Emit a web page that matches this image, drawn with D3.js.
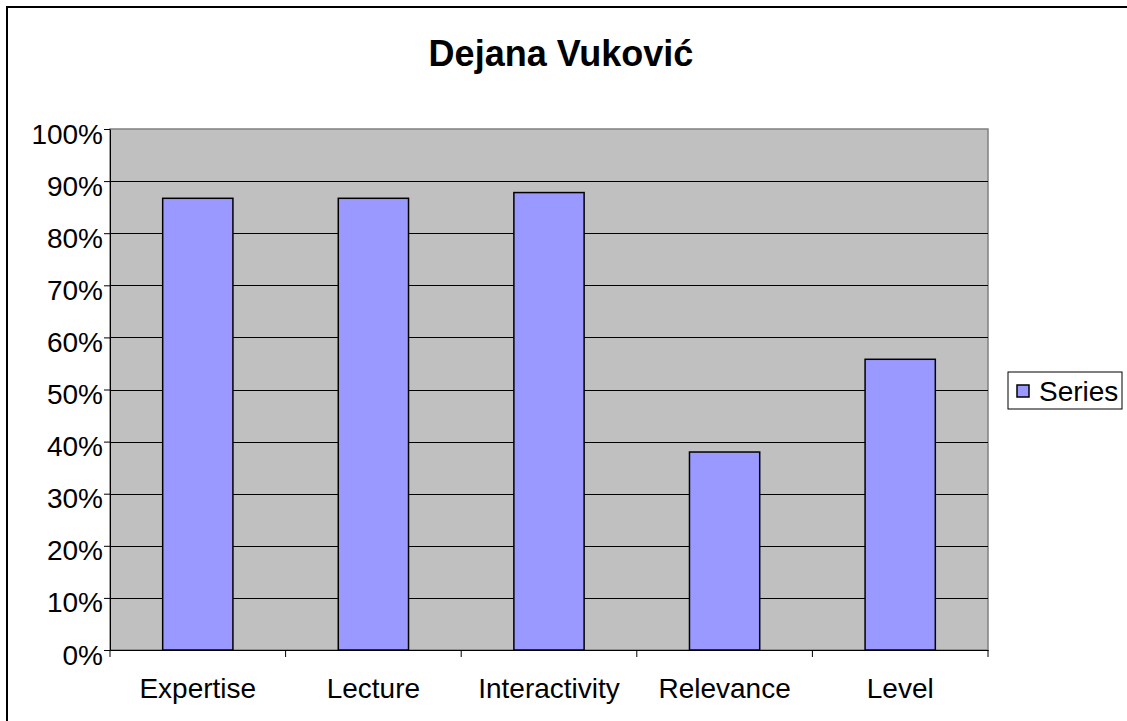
<!DOCTYPE html>
<html>
<head>
<meta charset="utf-8">
<script src="https://cdn.jsdelivr.net/npm/d3@7"></script>
<style>
  body { margin: 0; background: #fff; }
  text { font-family: "Liberation Sans", Arial, sans-serif; }
</style>
</head>
<body>
<svg id="chart"></svg>
<script>
// data
const categories = ['Expertise', 'Lecture', 'Interactivity', 'Relevance', 'Level'];
const values = [0.867, 0.867, 0.878, 0.380, 0.558];
const yTicks = [0, 0.1, 0.2, 0.3, 0.4, 0.5, 0.6, 0.7, 0.8, 0.9, 1.0];
const seriesName = 'Series';
const chartTitle = 'Dejana Vuković';

const width = 1127, height = 721;
const margin = {top: 129, right: 139, bottom: 71, left: 110};
const innerW = width - margin.left - margin.right;
const innerH = height - margin.top - margin.bottom;

const svg = d3.select('#chart')
    .attr('width', width)
    .attr('height', height);

// outer chart border (runs off the right and bottom edges)
svg.append('rect')
    .attr('x', 7).attr('y', 7)
    .attr('width', width + 20).attr('height', height + 20)
    .attr('fill', '#fff')
    .attr('stroke', '#000')
    .attr('stroke-width', 2);

svg.append('text')
    .attr('x', 561)
    .attr('y', 66)
    .attr('text-anchor', 'middle')
    .attr('font-weight', 'bold')
    .attr('font-size', 36)
    .text(chartTitle);

const chart = svg.append('g')
    .attr('transform', `translate(${margin.left}, ${margin.top})`);

const xscale = d3.scaleBand()
    .domain(categories)
    .range([0, innerW])
    .paddingInner(0.6)
    .paddingOuter(0.3);

// band scale without padding for the category tick marks
const xcats = d3.scaleBand()
    .domain(categories)
    .range([0, innerW]);

const yscale = d3.scaleLinear()
    .domain([0, 1])
    .range([innerH, 0]);

chart.append('rect')
    .attr('width', innerW)
    .attr('height', innerH)
    .attr('fill', '#c0c0c0')
    .attr('stroke', '#808080')
    .attr('stroke-width', 1.5);

chart.selectAll('.grid')
    .data(yTicks.filter(d => d > 0 && d < 1))
    .join('line')
    .attr('class', 'grid')
    .attr('x1', 0).attr('x2', innerW)
    .attr('y1', d => Math.round(yscale(d)) + 0.5)
    .attr('y2', d => Math.round(yscale(d)) + 0.5)
    .attr('stroke', '#000')
    .attr('stroke-width', 1);

chart.selectAll('.bar')
    .data(values)
    .join('rect')
    .attr('class', 'bar')
    .attr('x', (d, i) => xscale(categories[i]))
    .attr('y', d => yscale(d))
    .attr('width', xscale.bandwidth())
    .attr('height', d => innerH - yscale(d))
    .attr('fill', '#9999ff')
    .attr('stroke', '#000')
    .attr('stroke-width', 1.5);

// y axis
const yaxis = d3.axisLeft(yscale)
    .tickValues(yTicks)
    .tickFormat(d3.format('.0%'))
    .tickSize(6)
    .tickPadding(1)
    .tickSizeOuter(0);

const yg = chart.append('g').call(yaxis);
yg.select('.domain').attr('stroke', '#000');
yg.selectAll('.tick line').attr('stroke', '#000');
yg.selectAll('.tick text')
    .attr('font-size', 28)
    .attr('dy', '0.5em')
    .attr('fill', '#000')
    .attr('font-family', '"Liberation Sans", Arial, sans-serif');

// x axis
const xaxis = d3.axisBottom(xcats)
    .tickSize(0)
    .tickPadding(28)
    .tickSizeOuter(0);

const xg = chart.append('g')
    .attr('transform', `translate(0, ${innerH})`)
    .call(xaxis);
xg.select('.domain').attr('stroke', '#000');
xg.selectAll('.tick text')
    .attr('font-size', 28)
    .attr('fill', '#000')
    .attr('font-family', '"Liberation Sans", Arial, sans-serif');

xg.selectAll('.cat-tick')
    .data(d3.range(categories.length + 1))
    .join('line')
    .attr('class', 'cat-tick')
    .attr('x1', i => i * xcats.step())
    .attr('x2', i => i * xcats.step())
    .attr('y1', 0).attr('y2', 7)
    .attr('stroke', '#000');

// legend
const legend = svg.append('g')
    .attr('transform', 'translate(1008, 372)');
legend.append('rect')
    .attr('width', 114).attr('height', 37)
    .attr('fill', '#fff')
    .attr('stroke', '#000')
    .attr('stroke-width', 1);
legend.append('rect')
    .attr('x', 9).attr('y', 13)
    .attr('width', 12).attr('height', 12)
    .attr('fill', '#9999ff')
    .attr('stroke', '#000')
    .attr('stroke-width', 1.5);
legend.append('text')
    .attr('x', 31).attr('y', 29)
    .attr('font-size', 28)
    .text(seriesName);
</script>
</body>
</html>
